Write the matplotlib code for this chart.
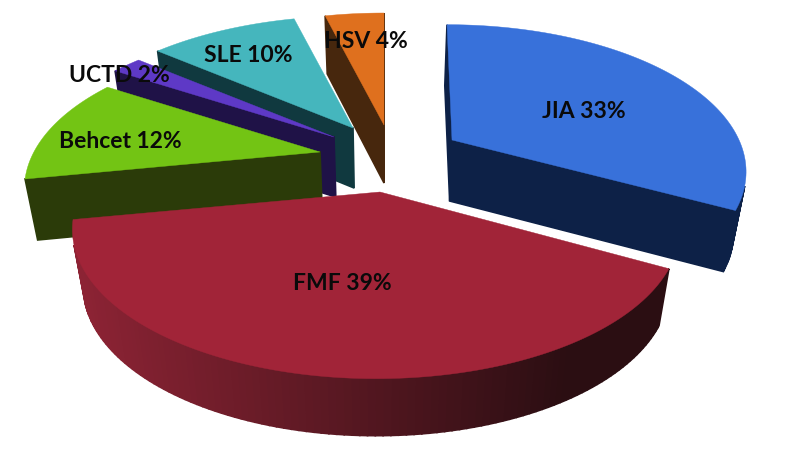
#exploded 3d pie, slices go clockwise from 12 o'clock
import numpy as np
import matplotlib.pyplot as plt
from matplotlib.colors import to_rgb

names = ['JIA', 'FMF', 'Behcet', 'UCTD', 'SLE', 'HSV']
values = [33, 39, 12, 2, 10, 4]

top_colors = ['#3871DA', '#A12438', '#73C414', '#5E39C6', '#45B6BD', '#DF701E']
side_colors = ['#0D2147', '#6A1A28', '#2B3B09', '#1F1247', '#10393F', '#47270D']

#where each slice tip sits in pixels, plus small tweaks for the arc
tip_x = [452, 380, 320, 334, 353, 384]
tip_y = [140, 192, 152, 137, 128, 125]
arc_dx = [-5, -4, 2, 0, 0, 0]
arc_dy = [-5, 0, 0, 0, 0, 0]
scale = [0.985, 1.0, 0.98, 1.0, 1.0, 1.0]
depths = [61, 57, 61, 60, 60, 58]
label_x = [584, 342, 120, 119, 248, 366]
label_y = [112, 284, 141, 75, 56, 42]

draw_order = [5, 4, 3, 2, 0, 1]

R = 294
S = 140
k = 0.25
vanish_x = 385
t = 0.035

plt.rcParams['font.family'] = ['Lato', 'DejaVu Sans']

fig = plt.figure(figsize=(7.86, 4.55), dpi=100)
ax = fig.add_axes([0, 0, 1, 1])
ax.set_xlim(0, 786)
ax.set_ylim(455, 0)
ax.axis('off')

def outline(i, a0, a1):
    ang = np.radians(np.linspace(a0, a1, 120))
    w = 1 + k*np.sin(ang)
    x = tip_x[i] + arc_dx[i] + scale[i]*R*np.cos(ang)/w
    y = tip_y[i] + arc_dy[i] - scale[i]*S*np.sin(ang)/w
    return np.r_[tip_x[i], x, tip_x[i]], np.r_[tip_y[i], y, tip_y[i]]

def lower(x, y, d):
    return x + (vanish_x - x)*t, y + d

def area(x, y):
    return 0.5*np.sum(x*np.roll(y, -1) - np.roll(x, -1)*y)

edges = 90 - np.cumsum([0] + values)*3.6
dark = np.array(to_rgb('#2B0E12'))
light = np.array(to_rgb('#8C2334'))

for i in draw_order:
    x, y = outline(i, edges[i], edges[i+1])
    bx, by = lower(x, y, depths[i])
    sign = area(x[:-1], y[:-1])
    for j in range(len(x)-1):
        qx = np.array([x[j], x[j+1], bx[j+1], bx[j]])
        qy = np.array([y[j], y[j+1], by[j+1], by[j]])
        if area(qx, qy)*sign >= 0:
            continue
        c = side_colors[i]
        if names[i] == 'FMF':
            f = np.clip((qx.mean() - 85)/480, 0, 1)
            c = light + (dark - light)*f
        ax.fill(qx, qy, color=c, lw=1.2, zorder=draw_order.index(i)*2+1)
    ax.fill(x, y, color=top_colors[i], lw=0.3, zorder=draw_order.index(i)*2+2)

for i in range(len(names)):
    ax.text(label_x[i], label_y[i], f'{names[i]} {values[i]}%', ha='center', va='center',
            fontsize=16.5, fontweight='bold', color='#0A0A0A', zorder=50)

fig.savefig('out.png', dpi=100, facecolor='white')
